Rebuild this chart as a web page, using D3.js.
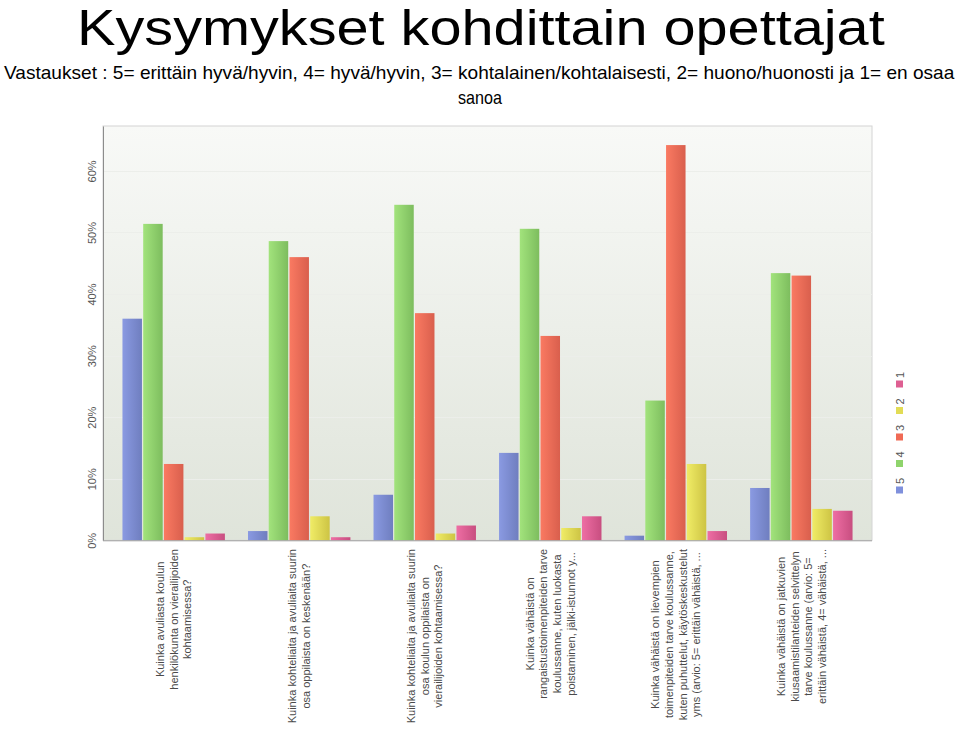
<!DOCTYPE html>
<html><head><meta charset="utf-8">
<script src="https://cdn.jsdelivr.net/npm/d3@7"></script>
<style>body{margin:0;background:#fff}svg{display:block}</style>
</head><body>
<svg id="c" width="960" height="753"></svg>
<script>
const title = "Kysymykset kohdittain opettajat";
const subtitle1 = "Vastaukset : 5= erittäin hyvä/hyvin, 4= hyvä/hyvin, 3= kohtalainen/kohtalaisesti, 2= huono/huonosti ja 1= en osaa";
const subtitle2 = "sanoa";
const categories = [
  ["Kuinka avuliasta koulun","henkilökunta on vierailijoiden","kohtaamisessa?"],
  ["Kuinka kohteliaita ja avuliaita suurin","osa oppilaista on keskenään?"],
  ["Kuinka kohteliaita ja avuliaita suurin","osa koulun oppilaista on","vierailijoiden kohtaamisessa?"],
  ["Kuinka vähäistä on","rangaistustoimenpiteiden tarve","koulussanne, kuten luokasta","poistaminen, jälki-istunnot y..."],
  ["Kuinka vähäistä on lievempien","toimenpiteiden tarve koulussanne,","kuten puhuttelut, käytöskeskustelut","yms (arvio: 5= erittäin vähäistä, ..."],
  ["Kuinka vähäistä on jatkuvien","kiusaamistilanteiden selvittelyn","tarve koulussanne (arvio: 5=","erittäin vähäistä, 4= vähäistä, ..."]
];
const seriesNames = ["5","4","3","2","1"];
const s5 = [36.0, 1.5, 7.4, 14.2, 0.75, 8.5];
const s4 = [51.4, 48.6, 54.5, 50.6, 22.7, 43.4];
const s3 = [12.4, 46.0, 36.9, 33.2, 64.2, 43.0];
const s2 = [0.5, 3.9, 1.1, 2.0, 12.4, 5.1];
const s1 = [1.1, 0.5, 2.4, 3.9, 1.5, 4.8];
const seriesValues = [s5, s4, s3, s2, s1];
const yTicks = [0, 10, 20, 30, 40, 50, 60];

const colorsL = ["#8a9ae2","#a2e37c","#fa7a62","#f0ec66","#ee6ea4"];
const colorsR = ["#6f7ebf","#7dbd5e","#d95f4d","#cdc444","#c84e80"];
const legendCol = ["#7f90dc","#8fd46c","#f06a55","#e2dc55","#de5f92"];

const svg = d3.select("#c");
const defs = svg.append("defs");
const L = 103, R = 872, T = 126, B = 540.3;

// titles: fit natural width into target width with a horizontal scale
function fitText(str, size, left, baseline, width){
  const t = svg.append("text").attr("font-family","Liberation Sans, Arial, sans-serif")
    .attr("font-size", size).attr("fill","#000").attr("x",0).attr("y",0).text(str);
  const w = t.node().getComputedTextLength();
  t.attr("transform", `translate(${left},${baseline}) scale(${width/w},1)`);
  return t;
}
fitText(title, 49, 77, 45, 808);
fitText(subtitle1, 19, 4, 79, 951);
fitText(subtitle2, 19, 458, 104, 44);

// gradients
const bg = defs.append("linearGradient").attr("id","bg").attr("x1",0).attr("y1",0).attr("x2",0).attr("y2",1);
bg.append("stop").attr("offset","0%").attr("stop-color","#f8f9f7");
bg.append("stop").attr("offset","100%").attr("stop-color","#dfe4da");
seriesNames.forEach((s,i)=>{
  const g = defs.append("linearGradient").attr("id","g"+i).attr("x1",0).attr("y1",0).attr("x2",1).attr("y2",0);
  g.append("stop").attr("offset","0%").attr("stop-color",colorsL[i]);
  g.append("stop").attr("offset","100%").attr("stop-color",colorsR[i]);
});

svg.append("rect").attr("x",L).attr("y",T).attr("width",R-L).attr("height",B-T)
  .attr("fill","url(#bg)").attr("stroke","#d4d4d4").attr("stroke-width",1);

const y = d3.scaleLinear().domain([0, 67.3]).range([B, T]);
const x0 = d3.scaleBand().domain(d3.range(categories.length)).range([L, R]).paddingInner(0.184).paddingOuter(0.155);
const x1 = d3.scaleBand().domain(d3.range(seriesNames.length)).range([0, x0.bandwidth()]).paddingInner(0.06);

// gridlines
svg.append("g").selectAll("line").data(yTicks.filter(d=>d>0)).join("line")
  .attr("x1",L).attr("x2",R).attr("y1",d=>Math.round(y(d))+0.5).attr("y2",d=>Math.round(y(d))+0.5)
  .attr("stroke","#eceeea").attr("stroke-width",1);

// y axis
const yAxis = svg.append("g").attr("transform",`translate(${L},0)`)
  .call(d3.axisLeft(y).tickValues(yTicks).tickSize(0).tickFormat(d=>d+"%"));
yAxis.select(".domain").attr("stroke","#8c8c8c");
yAxis.selectAll(".tick text")
  .attr("font-family","Liberation Sans, Arial, sans-serif").attr("font-size",11).attr("fill","#555")
  .attr("x",0).attr("y",0).attr("dy",0).attr("text-anchor","middle")
  .attr("transform","translate(-7,0) rotate(-90)");

// bars
const groups = svg.append("g").selectAll("g").data(categories.map((c,i)=>i)).join("g")
  .attr("transform", i=>`translate(${x0(i)},0)`);
groups.selectAll("rect").data(i=>seriesValues.map((s,k)=>({k, v:s[i]}))).join("rect")
  .attr("x", d=>x1(d.k)).attr("width", x1.bandwidth())
  .attr("y", d=>y(d.v)).attr("height", d=>B - y(d.v))
  .attr("fill", d=>`url(#g${d.k})`);

// x axis baseline
svg.append("line").attr("x1",L).attr("x2",R).attr("y1",B+0.5).attr("y2",B+0.5).attr("stroke","#a0a0a0");

// category labels
const lh = 13.6;
categories.forEach((lines,i)=>{
  const cx = x0(i) + x0.bandwidth()/2;
  const g = svg.append("g");
  const texts = lines.map((ln,j)=> g.append("text").attr("font-family","Liberation Sans, Arial, sans-serif")
    .attr("font-size",11).attr("fill","#4a4a4a").attr("text-anchor","middle").text(ln));
  const maxLen = d3.max(texts, t=>t.node().getComputedTextLength());
  const cy = 549 + maxLen/2;
  const n = lines.length;
  texts.forEach((t,j)=>{
    const lx = cx + (j - (n-1)/2)*lh + 4;
    t.attr("transform", `translate(${lx},${cy}) rotate(-90)`);
  });
});

// legend
const legY = [490, 463.5, 437, 410.5, 384];
const leg = svg.append("g").selectAll("g").data(seriesNames).join("g")
  .attr("transform",(d,i)=>`translate(899.5,${legY[i]})`);
leg.append("rect").attr("x",-3.5).attr("y",-3.5).attr("width",7).attr("height",7).attr("fill",(d,i)=>legendCol[i]);
leg.append("text").attr("transform","translate(4,-9) rotate(-90)").attr("text-anchor","middle")
  .attr("font-family","Liberation Sans, Arial, sans-serif").attr("font-size",11).attr("fill","#555").text(d=>d);
</script>
</body></html>
